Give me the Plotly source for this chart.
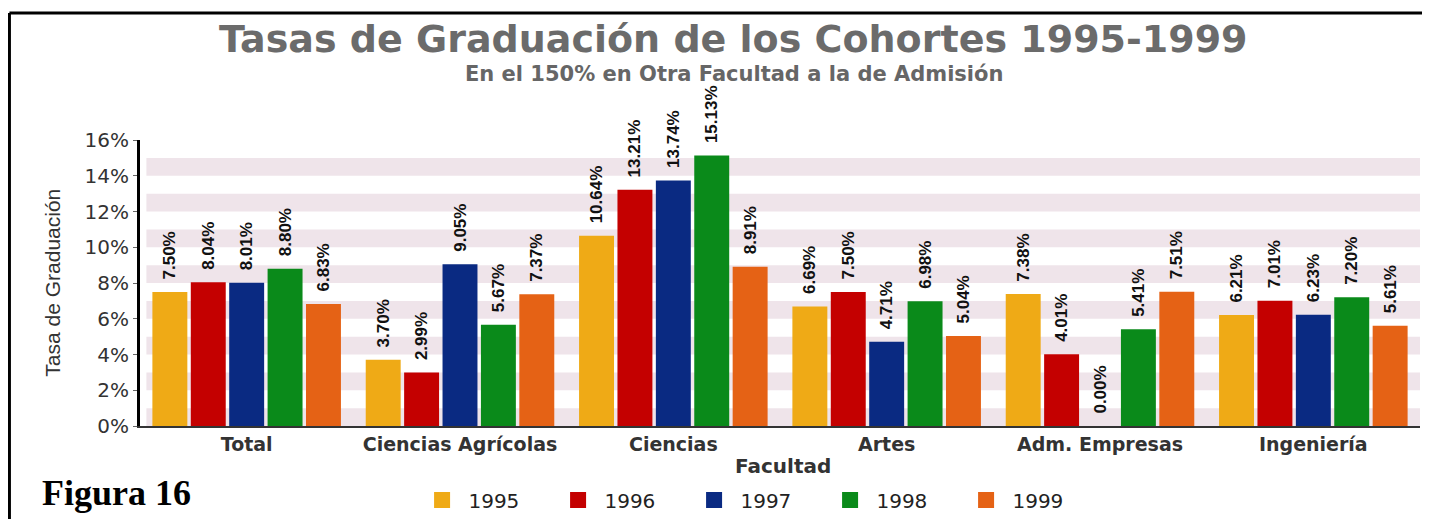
import plotly.graph_objects as go

# categories and values
facultades = ['Total', 'Ciencias Agrícolas', 'Ciencias', 'Artes', 'Adm. Empresas', 'Ingeniería']
cohortes = ['1995', '1996', '1997', '1998', '1999']

tasa_1995 = [7.50, 3.70, 10.64, 6.69, 7.38, 6.21]
tasa_1996 = [8.04, 2.99, 13.21, 7.50, 4.01, 7.01]
tasa_1997 = [8.01, 9.05, 13.74, 4.71, 0.00, 6.23]
tasa_1998 = [8.80, 5.67, 15.13, 6.98, 5.41, 7.20]
tasa_1999 = [6.83, 7.37, 8.91, 5.04, 7.51, 5.61]

y_ticks = [0, 2, 4, 6, 8, 10, 12, 14, 16]
y_ticktext = ['0%', '2%', '4%', '6%', '8%', '10%', '12%', '14%', '16%']

colors = ['#EFAA16', '#C40000', '#0A2A82', '#0A8A1A', '#E56215']
series = [tasa_1995, tasa_1996, tasa_1997, tasa_1998, tasa_1999]

WIDE = 'DejaVu Sans, Verdana, sans-serif'
ARIAL = 'Liberation Sans, Arial, sans-serif'

fig = go.Figure()

for name, vals, col in zip(cohortes, series, colors):
    fig.add_trace(go.Bar(
        x=facultades, y=vals, name=name,
        marker=dict(color=col, line=dict(width=0)),
        text=[f'  {v:.2f}%' for v in vals],
        textposition='outside', textangle=-90, constraintext='none',
        textfont=dict(family=ARIAL, size=17, color='#111', weight='bold'),
        cliponaxis=False,
        showlegend=False,
    ))

# legend entries as big squares
for name, col in zip(cohortes, colors):
    fig.add_trace(go.Scatter(
        x=[None], y=[None], mode='markers', name=' ' + name,
        marker=dict(symbol='square', size=20, color=col),
    ))

# pink horizontal bands behind the bars
shapes = []
for lo in range(0, 16, 2):
    shapes.append(dict(type='rect', xref='paper', yref='y', x0=0.005, x1=1.0,
                       y0=lo, y1=lo + 1, fillcolor='#EFE4EA', line=dict(width=0), layer='below'))

# outer frame (top and left)
shapes.append(dict(type='line', xref='paper', yref='paper', x0=-0.102, x1=1.02, y0=1.444, y1=1.444,
                   line=dict(color='black', width=3)))
shapes.append(dict(type='line', xref='paper', yref='paper', x0=-0.102, x1=-0.102, y0=1.444, y1=-0.4,
                   line=dict(color='black', width=3)))

fig.update_layout(
    width=1422, height=511,
    margin=dict(l=132, r=10, t=132, b=93, autoexpand=False),
    paper_bgcolor='white', plot_bgcolor='white',
    barmode='group', bargap=0.1, bargroupgap=0.09,
    font=dict(family=WIDE, color='#333'),
    shapes=shapes,
    showlegend=True,
    legend=dict(orientation='h', x=0.486, xanchor='center', y=-0.259, yanchor='middle',
                font=dict(family=WIDE, size=20, color='#222'), itemsizing='trace', entrywidth=91,
                bgcolor='rgba(0,0,0,0)'),
    annotations=[
        dict(text='<b>Tasas de Graduación de los Cohortes 1995-1999</b>', xref='paper', yref='paper',
             x=0.464, y=1.353, xanchor='center', yanchor='middle', showarrow=False,
             font=dict(family=WIDE, size=38, color='#6B6B6B')),
        dict(text='<b>En el 150% en Otra Facultad a la de Admisión</b>', xref='paper', yref='paper',
             x=0.464, y=1.231, xanchor='center', yanchor='middle', showarrow=False,
             font=dict(family=WIDE, size=21, color='#666')),
        dict(text='Tasa de Graduación', xref='paper', yref='paper', x=-0.069, y=0.5, textangle=-90,
             xanchor='center', yanchor='middle', showarrow=False,
             font=dict(family=ARIAL, size=21, color='#333')),
        dict(text='<b>Facultad</b>', xref='paper', yref='paper', x=0.502, y=-0.14, yanchor='middle',
             showarrow=False, font=dict(family=WIDE, size=20, color='#333')),
        dict(text='<b>Figura 16</b>', xref='paper', yref='paper', x=-0.078, y=-0.234, xanchor='left',
             yanchor='middle', showarrow=False,
             font=dict(family='Liberation Serif, Times New Roman, serif', size=36, color='black')),
    ],
)

fig.update_yaxes(
    range=[0, 16], tickvals=y_ticks, ticktext=y_ticktext,
    showgrid=False, zeroline=False,
    showline=True, linecolor='black', linewidth=3,
    ticks='outside', ticklen=4, tickcolor='#666',
    tickfont=dict(family=WIDE, size=20, color='#333'),
)
fig.update_xaxes(
    showgrid=False, showline=True, linecolor='#333', linewidth=2,
    tickfont=dict(family=WIDE, size=19, color='#333', weight='bold'),
    ticklabelstandoff=0,
)

fig.write_html('out.html')
